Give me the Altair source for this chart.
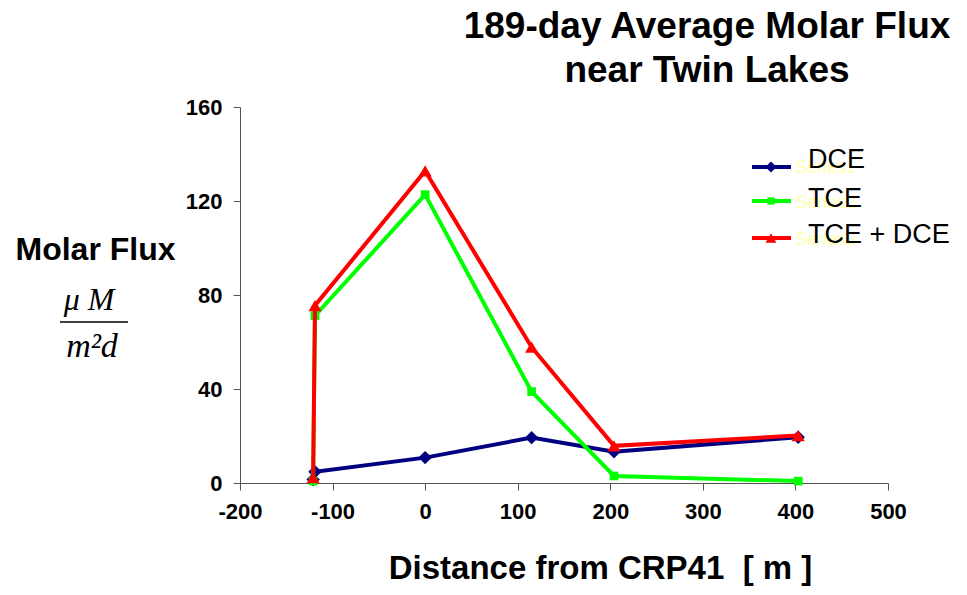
import altair as alt
import pandas as pd

# ---- data ----
distance = [-121, -119, 0, 115, 204, 403]
dce = [1.5, 4.8, 10.8, 19.3, 13.3, 19.5]
tce = [0.8, 71.2, 122.7, 38.9, 3.0, 0.8]
tce_dce = [2.3, 75.5, 132.8, 57.8, 15.8, 20.2]

series_names = ["DCE", "TCE", "TCE + DCE"]
series_values = [dce, tce, tce_dce]
series_colors = ["#000080", "#00ff00", "#ff0000"]
series_shapes = ["diamond", "square", "triangle-up"]
series_sizes = [180, 75, 170]
ghost_names = ["Series1", "Series2", "Series3"]

x_ticks = [-200, -100, 0, 100, 200, 300, 400, 500]
y_ticks = [0, 40, 80, 120, 160]

SANS = "Liberation Sans, Arial, Helvetica, sans-serif"
SERIF = "Liberation Serif, Times New Roman, serif"
NB = "\u00a0"

rows = []
for name, vals in zip(series_names, series_values):
    for i, (d, v) in enumerate(zip(distance, vals)):
        rows.append({"series": name, "idx": i, "distance": d, "flux": v})
df = pd.DataFrame(rows)

x_enc = alt.X(
    "distance:Q",
    scale=alt.Scale(domain=[-200, 500], nice=False, zero=False),
    axis=alt.Axis(
        values=x_ticks, grid=False, labelExpr="toString(datum.value)",
        title="Distance from CRP41" + NB + NB + "[" + NB + "m" + NB + "]",
        titleFont=SANS, titleFontSize=33, titleFontWeight="bold", titleColor="black",
        titleAnchor="start", titleAlign="center", titleBaseline="alphabetic",
        titleX=360, titleY=95,
        labelFont=SANS, labelFontSize=22, labelFontWeight="bold", labelColor="black",
        labelPadding=11, tickSize=7, tickColor="#555555", domainColor="#555555",
        labelFlush=False, labelOverlap=False,
    ),
)
y_enc = alt.Y(
    "flux:Q",
    scale=alt.Scale(domain=[0, 160], nice=False),
    axis=alt.Axis(
        values=y_ticks, grid=False, labelExpr="toString(datum.value)",
        title="Molar Flux", titleAngle=0,
        titleFont=SANS, titleFontSize=32, titleFontWeight="bold", titleColor="black",
        titleAlign="center", titleBaseline="alphabetic",
        titleX=-145, titleY=152,
        labelFont=SANS, labelFontSize=22, labelFontWeight="bold", labelColor="black",
        labelPadding=11, tickSize=7, tickColor="#555555", domainColor="#555555",
        labelFlush=False, labelOverlap=False,
    ),
)

layers = []
for k, name in enumerate(series_names):
    sub = df[df["series"] == name]
    base = alt.Chart(sub)
    layers.append(
        base.mark_line(color=series_colors[k], strokeWidth=4, clip=False).encode(
            x=x_enc, y=y_enc, order=alt.Order("idx:Q")
        )
    )
    layers.append(
        base.mark_point(
            color=series_colors[k], filled=True, opacity=1,
            shape=series_shapes[k], size=series_sizes[k], clip=False
        ).encode(x=x_enc, y=y_enc)
    )

one = pd.DataFrame({"k": [0]})

# title
layers.append(
    alt.Chart(one).mark_text(
        text=["189-day Average Molar Flux", "near Twin Lakes"],
        font=SANS, fontSize=37, fontWeight="bold", color="black",
        align="center", baseline="alphabetic", lineHeight=44,
    ).encode(x=alt.value(467), y=alt.value(-69))
)

# unit fraction
layers.append(
    alt.Chart(one).mark_text(
        text="\u03bc M", font=SERIF, fontSize=32, fontStyle="italic",
        color="black", align="center", baseline="alphabetic",
    ).encode(x=alt.value(-151), y=alt.value(203))
)
layers.append(
    alt.Chart(one).mark_rule(color="black", strokeWidth=1.5).encode(
        x=alt.value(-180), x2=alt.value(-112), y=alt.value(215)
    )
)
layers.append(
    alt.Chart(one).mark_text(
        text="m\u00b2d", font=SERIF, fontSize=34, fontStyle="italic",
        color="black", align="center", baseline="alphabetic",
    ).encode(x=alt.value(-148), y=alt.value(250))
)

# legend
leg_line_y = [60, 94, 131]
leg_text_y = [61, 100, 136]
ghost_y = [66, 101, 138]
for k, name in enumerate(series_names):
    layers.append(
        alt.Chart(one).mark_rule(color=series_colors[k], strokeWidth=4).encode(
            x=alt.value(512), x2=alt.value(551), y=alt.value(leg_line_y[k])
        )
    )
    layers.append(
        alt.Chart(one).mark_point(
            color=series_colors[k], filled=True, opacity=1,
            shape=series_shapes[k], size=series_sizes[k] * 0.7,
        ).encode(x=alt.value(531), y=alt.value(leg_line_y[k]))
    )
    layers.append(
        alt.Chart(one).mark_text(
            text=ghost_names[k], font=SANS, fontSize=18, color="#ffffb0",
            align="left", baseline="alphabetic",
        ).encode(x=alt.value(555), y=alt.value(ghost_y[k]))
    )
    layers.append(
        alt.Chart(one).mark_text(
            text=name, font=SANS, fontSize=27, color="black",
            align="left", baseline="alphabetic",
        ).encode(x=alt.value(568), y=alt.value(leg_text_y[k]))
    )

chart = alt.layer(*layers).properties(
    width=648, height=376,
    autosize=alt.AutoSizeParams(type="none"),
    padding={"left": 232, "top": 99, "right": 71, "bottom": 104},
    background="white",
).configure_view(strokeWidth=0)

chart.save("out.html", embed_options={"renderer": "svg", "actions": False})
